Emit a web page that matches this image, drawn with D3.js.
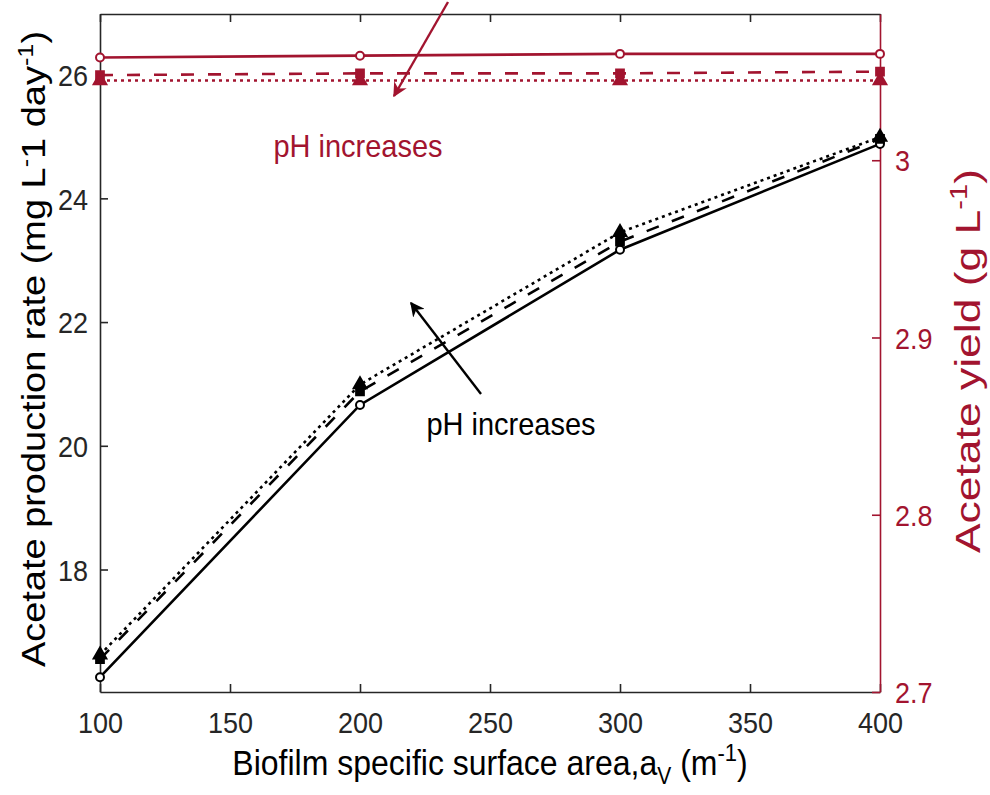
<!DOCTYPE html>
<html>
<head>
<meta charset="utf-8">
<script src="https://cdn.jsdelivr.net/npm/d3@7"></script>
<style>
  body { margin: 0; background: #fff; }
  svg text { font-family: "Liberation Sans", Arial, sans-serif; }
</style>
</head>
<body>
<div id="chart"></div>
<script>
(function () {

    var RED   = "#A2142F";
    var BLACK = "#000000";
    var STRETCH = 1.1;   // the source picture is slightly taller than wide

    /* ── data ─────────────────────────────────────────────────────── */
    var AREA = [100, 200, 300, 400];

    // acetate production rate (left axis)
    var RATE_SOLID  = [16.26, 20.66, 23.17, 24.88];
    var RATE_DASHED = [16.55, 20.88, 23.30, 24.96];
    var RATE_DOTTED = [16.62, 20.99, 23.45, 24.99];

    // acetate yield (right axis)
    var YIELD_SOLID  = [3.058, 3.059, 3.060, 3.060];
    var YIELD_DASHED = [3.048, 3.049, 3.049, 3.050];
    var YIELD_DOTTED = [3.045, 3.045, 3.045, 3.045];

    var X_TICKS     = [100, 150, 200, 250, 300, 350, 400];
    var LEFT_TICKS  = [18, 20, 22, 24, 26];
    var RIGHT_TICKS = [2.7, 2.8, 2.9, 3.0];

    var W = 990, H = 795;
    var margin = { top: 14, right: 110, bottom: 103, left: 100 };
    var iW = W - margin.left - margin.right;
    var iH = H - margin.top - margin.bottom;

    var svg = d3.select("#chart").append("svg")
        .attr("width", W).attr("height", H)
        .append("g")
        .attr("transform", "translate(" + margin.left + "," + margin.top + ")");

    var x  = d3.scaleLinear().domain([100, 400]).range([0, iW]);
    var yL = d3.scaleLinear().domain([16.02, 26.98]).range([iH, 0]);
    var yR = d3.scaleLinear().domain([2.7, 3.0825]).range([iH, 0]);

    /* ── axes ─────────────────────────────────────────────────────── */
    function styleAxis(g, color) {
        g.select(".domain").attr("stroke", color).attr("stroke-width", 1.6);
        g.selectAll(".tick line").attr("stroke", color).attr("stroke-width", 1.6);
        g.selectAll(".tick text")
            .attr("fill", color)
            .style("font-size", "27px");
    }

    var gx = svg.append("g")
        .attr("transform", "translate(0," + iH + ")")
        .call(d3.axisBottom(x).tickValues(X_TICKS).tickSize(-8).tickSizeOuter(0));
    styleAxis(gx, "#262626");
    gx.selectAll(".tick text")
        .attr("y", null).attr("dy", null)
        .attr("transform", "translate(0,41) scale(1," + STRETCH + ")");

    var gTop = svg.append("g")
        .call(d3.axisTop(x).tickValues(X_TICKS).tickSize(-8).tickSizeOuter(0).tickFormat(""));
    styleAxis(gTop, "#262626");

    var gl = svg.append("g")
        .call(d3.axisLeft(yL).tickValues(LEFT_TICKS).tickSize(-8).tickSizeOuter(0));
    styleAxis(gl, "#262626");
    gl.selectAll(".tick text")
        .attr("x", null).attr("dy", "0.36em")
        .attr("transform", "translate(-12,0) scale(1," + STRETCH + ")");

    var gr = svg.append("g")
        .attr("transform", "translate(" + iW + ",0)")
        .call(d3.axisRight(yR).tickValues(RIGHT_TICKS).tickSize(-8).tickSizeOuter(0)
            .tickFormat(function (v) { return v === 3 ? "3" : d3.format(".1f")(v); }));
    styleAxis(gr, RED);
    gr.selectAll(".tick text")
        .attr("x", null).attr("dy", "0.36em")
        .attr("transform", "translate(15,0) scale(1," + STRETCH + ")");

    /* ── axis labels ──────────────────────────────────────────────── */
    function sup(t, s, size) {
        t.append("tspan").attr("baseline-shift", "super").style("font-size", size).text(s);
    }

    var lblL = svg.append("text")
        .attr("transform", "translate(-55,335) scale(1,1.15) rotate(-90)")
        .attr("text-anchor", "middle")
        .attr("fill", "#000")
        .style("font-size", "33px");
    lblL.append("tspan").text("Acetate production rate (mg L");
    sup(lblL, "-", "22px");
    lblL.append("tspan").text("1 day");
    sup(lblL, "-1", "22px");
    lblL.append("tspan").text(")");

    var lblR = svg.append("text")
        .attr("transform", "translate(" + (iW + 100) + ",347) scale(1,1.27) rotate(-90)")
        .attr("text-anchor", "middle")
        .attr("fill", RED)
        .style("font-size", "35px");
    lblR.append("tspan").text("Acetate yield (g L");
    sup(lblR, "-1", "23px");
    lblR.append("tspan").text(")");

    var lblX = svg.append("text")
        .attr("transform", "translate(" + (iW / 2) + "," + (iH + 83) + ") scale(1," + STRETCH + ")")
        .attr("text-anchor", "middle")
        .attr("fill", "#000")
        .style("font-size", "32px");
    lblX.append("tspan").text("Biofilm specific surface area,a");
    lblX.append("tspan").attr("dy", 8).style("font-size", "21px").text("V");
    lblX.append("tspan").attr("dy", -8).text(" (m");
    sup(lblX, "-1", "22px");
    lblX.append("tspan").text(")");

    /* ── series ───────────────────────────────────────────────────── */
    var SERIES = [
        { vals: RATE_SOLID,   y: yL, color: BLACK, dash: null,    marker: "circle"   },
        { vals: RATE_DASHED,  y: yL, color: BLACK, dash: "13,14", marker: "square"   },
        { vals: RATE_DOTTED,  y: yL, color: BLACK, dash: "3,4",   marker: "triangle" },
        { vals: YIELD_SOLID,  y: yR, color: RED,   dash: null,    marker: "circle"   },
        { vals: YIELD_DASHED, y: yR, color: RED,   dash: "13,14", marker: "square"   },
        { vals: YIELD_DOTTED, y: yR, color: RED,   dash: "3,4",   marker: "triangle" }
    ];

    SERIES.forEach(function (s) {
        var pts = AREA.map(function (a, i) { return [a, s.vals[i]]; });
        var line = d3.line()
            .x(function (d) { return x(d[0]); })
            .y(function (d) { return s.y(d[1]); });

        svg.append("path")
            .datum(pts)
            .attr("d", line)
            .attr("fill", "none")
            .attr("stroke", s.color)
            .attr("stroke-width", 2.6)
            .attr("stroke-dasharray", s.dash);

        var sym = s.marker === "circle" ? d3.symbolCircle
                : s.marker === "square" ? d3.symbolSquare : d3.symbolTriangle;
        var size = s.marker === "circle" ? 50 : s.marker === "square" ? 60 : 70;

        svg.append("g").selectAll("path")
            .data(pts)
            .enter()
            .append("path")
            .attr("transform", function (d) { return "translate(" + x(d[0]) + "," + s.y(d[1]) + ")"; })
            .attr("d", d3.symbol().type(sym).size(size))
            .attr("fill", s.marker === "circle" ? "#fff" : s.color)
            .attr("stroke", s.color)
            .attr("stroke-width", 2);
    });

    /* ── annotations ──────────────────────────────────────────────── */
    var defs = svg.append("defs");
    [["arrow-red", RED], ["arrow-black", BLACK]].forEach(function (a) {
        defs.append("marker")
            .attr("id", a[0])
            .attr("viewBox", "0 0 10 10")
            .attr("refX", 9).attr("refY", 5)
            .attr("markerWidth", 6).attr("markerHeight", 6)
            .attr("orient", "auto")
            .append("path")
            .attr("d", "M0,0 L10,5 L0,10 L3,5 Z")
            .attr("fill", a[1]);
    });

    svg.append("line")
        .attr("x1", 348).attr("y1", -12)
        .attr("x2", 294).attr("y2", 82)
        .attr("stroke", RED).attr("stroke-width", 2.4)
        .attr("marker-end", "url(#arrow-red)");

    svg.append("text")
        .attr("transform", "translate(258,143) scale(1," + STRETCH + ")")
        .attr("text-anchor", "middle")
        .attr("fill", RED)
        .style("font-size", "29px")
        .text("pH increases");

    svg.append("line")
        .attr("x1", 381).attr("y1", 380)
        .attr("x2", 311).attr("y2", 289)
        .attr("stroke", BLACK).attr("stroke-width", 2.4)
        .attr("marker-end", "url(#arrow-black)");

    svg.append("text")
        .attr("transform", "translate(411,421) scale(1," + STRETCH + ")")
        .attr("text-anchor", "middle")
        .attr("fill", BLACK)
        .style("font-size", "29px")
        .text("pH increases");

}());
</script>
</body>
</html>
